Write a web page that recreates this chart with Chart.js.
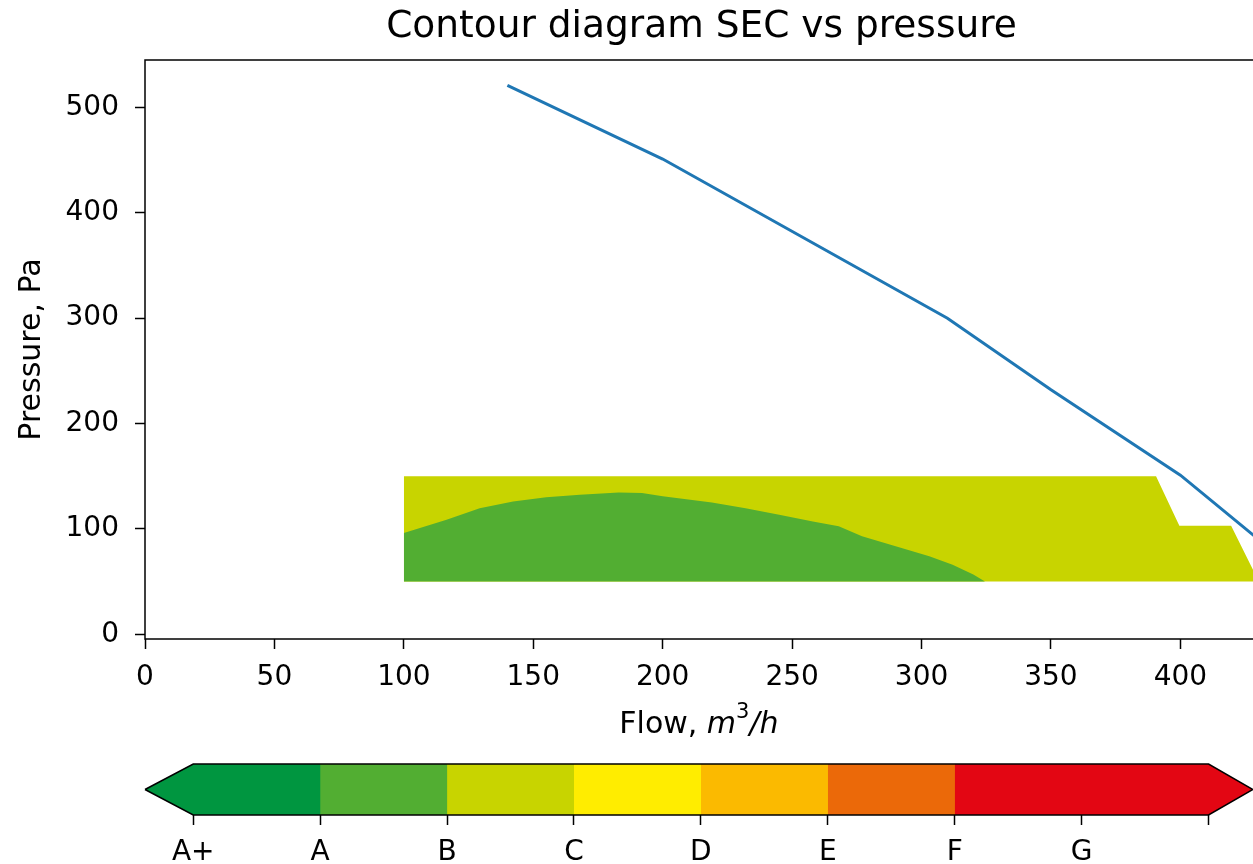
<!DOCTYPE html>
<html>
<head>
<meta charset="utf-8">
<script src="https://cdn.jsdelivr.net/npm/chart.js@4/dist/chart.umd.min.js"></script>
<style>
  html, body { margin: 0; padding: 0; background: #fff; overflow: hidden; width: 1253px; height: 864px; }
  #main { position: absolute; left: 0; top: 0; }
  #cbar { position: absolute; left: 0; top: 745px; }
</style>
</head>
<body>
<canvas id="main" width="1403" height="745"></canvas>
<canvas id="cbar" width="1253" height="119"></canvas>
<script>
// ---- data ----
const curveFlow = [140, 200, 310, 350, 400, 450];
const curvePressure = [521, 451, 300, 232, 151, 50];

// class B (yellow-green) region, upper boundary
const regionBFlow = [100, 390.6, 399.6, 419.6, 430.3];
const regionBPressure = [150, 150, 103, 103, 50];

// class A (green) region, upper boundary
const regionAFlow = [100, 116.5, 129.3, 142.2, 155, 168, 183, 192, 200, 219, 232, 245, 258, 268, 277, 290, 303, 312, 320, 324.5];
const regionAPressure = [96, 108.7, 119.7, 126, 130, 132.3, 134.5, 134, 131, 125, 119.7, 113.4, 107, 102.4, 93, 83.6, 74, 66, 56.7, 50];

const regionBase = 50;

const xTicks = [0, 50, 100, 150, 200, 250, 300, 350, 400];
const yTicks = [0, 100, 200, 300, 400, 500];

// colour bar
const classLabels = ['A+', 'A', 'B', 'C', 'D', 'E', 'F', 'G', ''];
const classLo = [0, 1, 2, 3, 4, 5, 6];
const classHi = [1, 2, 3, 4, 5, 6, 8];
const classColors = ['#009640', '#52AE32', '#C8D400', '#FFED00', '#FBBA00', '#EB6909', '#E30613'];
const extendLeft = -0.38;
const extendRight = 8.35;

const FONT = "'DejaVu Sans', sans-serif";
const toPts = (xs, ys) => xs.map((x, i) => ({x: x, y: ys[i]}));

// frame + math x-label plugin
const framePlugin = {
  id: 'frame',
  afterDraw(chart) {
    const {ctx, chartArea: a} = chart;
    ctx.save();
    ctx.strokeStyle = '#000';
    ctx.lineWidth = 1.5;
    ctx.strokeRect(a.left, a.top, a.right - a.left, a.bottom - a.top);
    // x label: Flow, m^3/h  (centred on the visible part of the axes, i.e. up to flow 428)
    const xs = chart.scales.x;
    const cx = (xs.getPixelForValue(0) + xs.getPixelForValue(428)) / 2;
    const cy = 725;
    const parts = [
      {t: 'Flow, ', f: '30px ' + FONT, dy: 0},
      {t: 'm', f: 'italic 30px ' + FONT, dy: 0},
      {t: '3', f: '21px ' + FONT, dy: -12},
      {t: '/h', f: 'italic 30px ' + FONT, dy: 0}
    ];
    let total = 0;
    parts.forEach(p => { ctx.font = p.f; p.w = ctx.measureText(p.t).width; total += p.w; });
    let x = cx - total / 2;
    ctx.fillStyle = '#000';
    ctx.textBaseline = 'middle';
    ctx.textAlign = 'left';
    parts.forEach(p => { ctx.font = p.f; ctx.fillText(p.t, x, cy + p.dy); x += p.w; });
    ctx.restore();
  }
};

new Chart(document.getElementById('main'), {
  type: 'line',
  data: {
    datasets: [
      {
        label: 'Pump curve',
        data: toPts(curveFlow, curvePressure),
        borderColor: '#1f77b4',
        borderWidth: 3,
        pointRadius: 0,
        fill: false,
        tension: 0,
        order: 0
      },
      {
        label: 'A',
        data: toPts(regionAFlow, regionAPressure),
        borderWidth: 0,
        borderColor: 'rgba(0,0,0,0)',
        backgroundColor: '#52AE32',
        pointRadius: 0,
        fill: {target: {value: regionBase}},
        tension: 0,
        order: 1
      },
      {
        label: 'B',
        data: toPts(regionBFlow, regionBPressure),
        borderWidth: 0,
        borderColor: 'rgba(0,0,0,0)',
        backgroundColor: '#C8D400',
        pointRadius: 0,
        fill: {target: {value: regionBase}},
        tension: 0,
        order: 2
      }
    ]
  },
  options: {
    responsive: false,
    animation: false,
    devicePixelRatio: 1,
    layout: {padding: {left: 0, right: 0, top: 0, bottom: 0}},
    plugins: {
      legend: {display: false},
      tooltip: {enabled: false},
      title: {
        display: true,
        text: 'Contour diagram SEC vs pressure',
        color: '#000',
        font: {family: FONT, size: 37.5, weight: 'normal'},
        padding: {top: 5, bottom: 10}
      }
    },
    scales: {
      x: {
        type: 'linear',
        min: 0,
        max: 486,
        afterBuildTicks: s => { s.ticks = xTicks.map(v => ({value: v})); },
        afterFit: s => { s.height = 106; },
        grid: {drawOnChartArea: false, drawTicks: true, tickLength: 10, color: '#000', tickWidth: 1.5},
        border: {display: false},
        ticks: {color: '#000', font: {family: FONT, size: 28}, padding: 12, maxRotation: 0, includeBounds: false}
      },
      y: {
        type: 'linear',
        min: -4.5,
        max: 545,
        afterBuildTicks: s => { s.ticks = yTicks.map(v => ({value: v})); },
        afterFit: s => { s.width = 145; },
        grid: {drawOnChartArea: false, drawTicks: true, tickLength: 10, color: '#000', tickWidth: 1.5},
        border: {display: false},
        ticks: {color: '#000', font: {family: FONT, size: 28}, padding: 16, includeBounds: false},
        title: {display: true, text: 'Pressure, Pa', color: '#000', font: {family: FONT, size: 30}, padding: {top: 14, bottom: 0}}
      }
    }
  },
  plugins: [framePlugin]
});

// ---- colour bar ----
// Each class band is drawn from its lower edge to the bar end; higher classes are layered on top,
// so every colour is visible exactly over its own interval without seams.
const cbDatasets = [];
const lastIdx = classColors.length - 1;
classColors.forEach((col, i) => {
  const ord = 20 - i;
  if (i === 0) {
    cbDatasets.push(
      {data: [{x: extendLeft, y: 0.5}, {x: 0, y: 1}, {x: classHi[lastIdx], y: 1}], borderWidth: 0, borderColor: 'rgba(0,0,0,0)', pointRadius: 0, fill: false, tension: 0, order: ord},
      {data: [{x: extendLeft, y: 0.5}, {x: 0, y: 0}, {x: classHi[lastIdx], y: 0}], borderWidth: 0, borderColor: 'rgba(0,0,0,0)', backgroundColor: col, pointRadius: 0, fill: '-1', tension: 0, order: ord}
    );
  } else if (i === lastIdx) {
    cbDatasets.push(
      {data: [{x: classLo[i], y: 1}, {x: classHi[i], y: 1}, {x: extendRight, y: 0.5}], borderWidth: 0, borderColor: 'rgba(0,0,0,0)', pointRadius: 0, fill: false, tension: 0, order: ord},
      {data: [{x: classLo[i], y: 0}, {x: classHi[i], y: 0}, {x: extendRight, y: 0.5}], borderWidth: 0, borderColor: 'rgba(0,0,0,0)', backgroundColor: col, pointRadius: 0, fill: '-1', tension: 0, order: ord}
    );
  } else {
    cbDatasets.push(
      {data: [{x: classLo[i], y: 1}, {x: classHi[lastIdx], y: 1}], borderWidth: 0, borderColor: 'rgba(0,0,0,0)', backgroundColor: col, pointRadius: 0, fill: {target: {value: 0}}, tension: 0, order: ord}
    );
  }
});
cbDatasets.push({
  data: [{x: extendLeft, y: 0.5}, {x: 0, y: 1}, {x: 8, y: 1}, {x: extendRight, y: 0.5}, {x: 8, y: 0}, {x: 0, y: 0}, {x: extendLeft, y: 0.5}],
  borderColor: '#000', borderWidth: 1.5, pointRadius: 0, fill: false, tension: 0, clip: false, order: -1
});

new Chart(document.getElementById('cbar'), {
  type: 'line',
  data: {datasets: cbDatasets},
  options: {
    responsive: false,
    animation: false,
    devicePixelRatio: 1,
    layout: {padding: {left: 145, right: 0, top: 19, bottom: 0}},
    plugins: {legend: {display: false}, tooltip: {enabled: false}},
    scales: {
      x: {
        type: 'linear',
        min: extendLeft,
        max: extendRight,
        afterBuildTicks: s => { s.ticks = classLabels.map((l, i) => ({value: i})); },
        afterFit: s => { s.height = 49; },
        grid: {drawOnChartArea: false, drawTicks: true, tickLength: 10, color: '#000', tickWidth: 1.5},
        border: {display: false},
        ticks: {
          color: '#000', font: {family: FONT, size: 28}, padding: 11, maxRotation: 0, autoSkip: false,
          callback: v => classLabels[Math.round(v)]
        }
      },
      y: {type: 'linear', min: 0, max: 1, display: false}
    }
  }
});
</script>
</body>
</html>
